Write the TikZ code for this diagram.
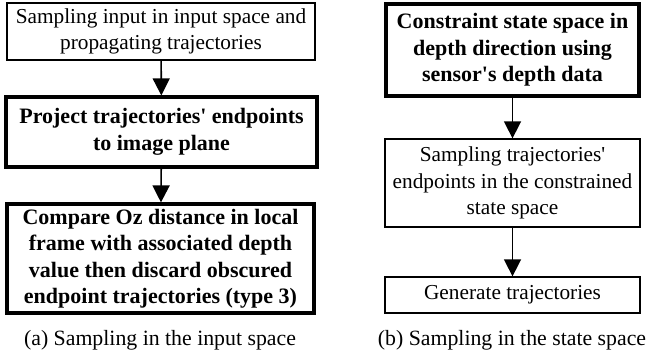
\documentclass[tikz,border=0pt]{standalone}
\usepackage{fontspec}
\setmainfont{Liberation Serif}
\usetikzlibrary{arrows.meta}

\tikzset{
  stepthin/.style={draw,line width=1.3pt,align=center,inner sep=0pt,font=\fontsize{21.3}{26.5}\selectfont},
  stepthick/.style={stepthin,line width=3.2pt,font=\fontsize{22}{26.5}\selectfont\bfseries},
  flow/.style={-{Triangle[length=17pt,width=17pt]},line width=1.6pt},
  caption/.style={font=\fontsize{21.8}{24}\selectfont}
}

\begin{document}
\begin{tikzpicture}[x=1pt,y=-1pt,line join=miter]
  \useasboundingbox (0,0) rectangle (647,358);
  % (a) input space
  \node[stepthin,minimum width=308pt,minimum height=57pt] (inA) at (161,31.5) {Sampling input in input space and\\propagating trajectories};
  \node[stepthick,minimum width=311pt,minimum height=70pt] (projA) at (161.5,132) {Project trajectories\textquotesingle{} endpoints\\to image plane};
  \node[stepthick,minimum width=307pt,minimum height=109pt] (cmpA) at (160.5,258.5) {Compare Oz distance in local\\frame with associated depth\\value then discard obscured\\endpoint trajectories (type 3)};
  \draw[flow] (inA) -- (projA);
  \draw[flow] (projA) -- (cmpA);
  \node[caption] (capA) at (160,340) {(a) Sampling in the input space};
  % (b) state space
  \node[stepthick,minimum width=253pt,minimum height=92pt] (conB) at (512.5,50) {Constraint state space in\\depth direction using\\sensor\textquotesingle s depth data};
  \node[stepthin,minimum width=255pt,minimum height=88pt] (smpB) at (512.5,183) {Sampling trajectories\textquotesingle\\endpoints in the constrained\\state space};
  \node[stepthin,minimum width=255pt,minimum height=36pt] (genB) at (512.5,295) {Generate trajectories};
  \draw[flow] (conB) -- (smpB);
  \draw[flow] (smpB) -- (genB);
  \node[caption] (capB) at (512,340) {(b) Sampling in the state space};
\end{tikzpicture}
\end{document}
